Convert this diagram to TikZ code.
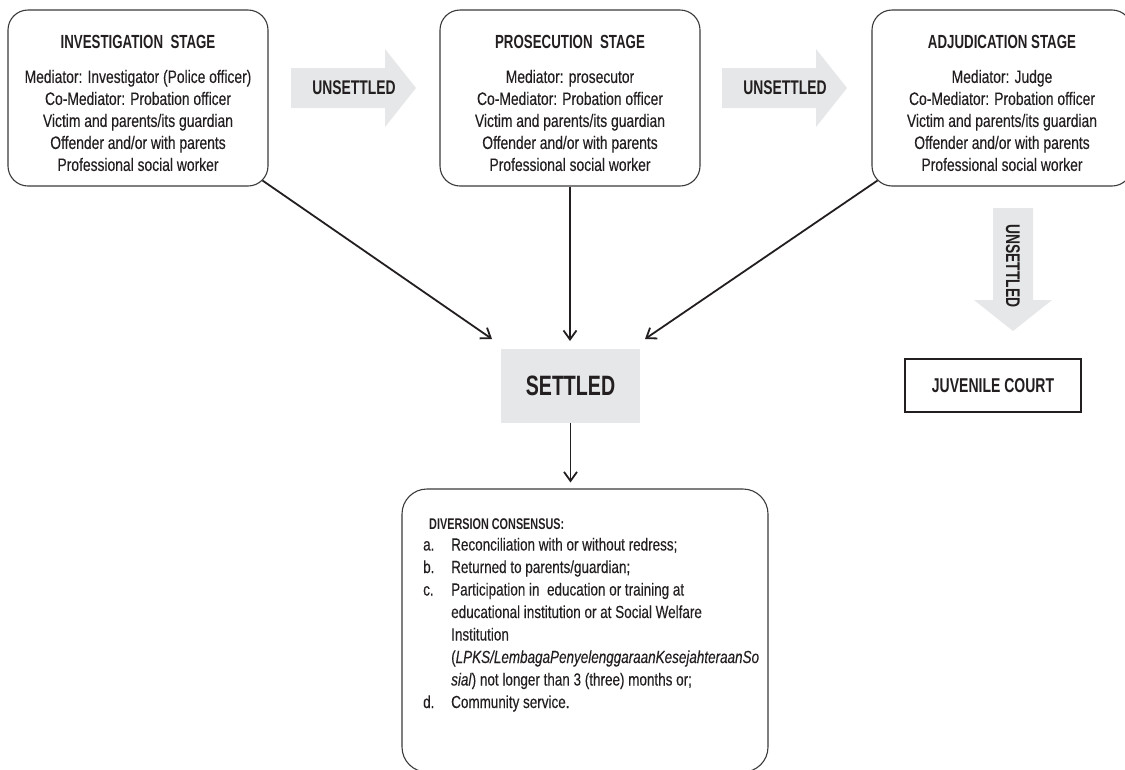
\documentclass[tikz,border=0pt]{standalone}
\usepackage{fontspec}
\setmainfont{Liberation Sans}[FakeStretch=0.77,FakeBold=0.25]
\newfontfamily\headfont{Liberation Sans}[FakeStretch=0.7]
\usetikzlibrary{arrows.meta}
\definecolor{ink}{HTML}{231F20}
\definecolor{arrowgray}{HTML}{E6E7E8}
\definecolor{boxline}{HTML}{3A3A3A}
\begin{document}
\begin{tikzpicture}[x=1pt,y=-1pt,
  stagebox/.style={draw=boxline, line width=1.1pt, rounded corners=20pt, minimum width=260pt, minimum height=176pt, inner sep=0pt},
  stagetitle/.style={text=ink, font=\headfont\bfseries\fontsize{19}{20}\selectfont, anchor=base, inner sep=0pt},
  stagebody/.style={text=ink, font=\fontsize{18}{22}\selectfont, align=center, inner sep=0pt},
  bigarrow/.style={fill=arrowgray},
  arrowlabel/.style={text=ink, font=\headfont\bfseries\fontsize{19.8}{22}\selectfont, inner sep=0pt},
  link/.style={draw=ink, line width=1.8pt, -{Straight Barb[length=9pt,width=13pt]}},
  listline/.style={text=ink, font=\fontsize{17.5}{22}\selectfont, anchor=base west, inner sep=0pt},
  listhead/.style={text=ink, font=\headfont\bfseries\fontsize{15.5}{18}\selectfont, anchor=base west, inner sep=0pt},
]
\useasboundingbox (0,0) rectangle (1125,769);

% stage boxes
\node[stagebox] (b1) at (138,98) {};
\node[stagebox] (b2) at (570,98) {};
\node[stagebox] (b3) at (1002,98) {};

\node[stagetitle] (t1) at (138,48.5) {INVESTIGATION\ \ STAGE};
\node[stagetitle] (t2) at (570,48.5) {PROSECUTION\ \ STAGE};
\node[stagetitle] (t3) at (1002,48.5) {ADJUDICATION STAGE};

\node[stagebody] (d1) at (138,120.5) {Mediator: Investigator (Police officer)\\Co-Mediator: Probation officer\\Victim and parents/its guardian\\Offender and/or with parents\\Professional social worker};
\node[stagebody] (d2) at (570,120.5) {Mediator: prosecutor\\Co-Mediator: Probation officer\\Victim and parents/its guardian\\Offender and/or with parents\\Professional social worker};
\node[stagebody] (d3) at (1002,120.5) {Mediator: Judge\\Co-Mediator: Probation officer\\Victim and parents/its guardian\\Offender and/or with parents\\Professional social worker};

% unsettled arrows
\fill[bigarrow] (291,68) -- (385,68) -- (385,49) -- (416,88) -- (385,127) -- (385,108) -- (291,108) -- cycle;
\node[arrowlabel] (u1) at (354,88) {UNSETTLED};
\fill[bigarrow] (722,68) -- (816,68) -- (816,49) -- (847,88) -- (816,127) -- (816,108) -- (722,108) -- cycle;
\node[arrowlabel] (u2) at (785,88) {UNSETTLED};
\fill[bigarrow] (993,208) -- (1033,208) -- (1033,300) -- (1052,300) -- (1013,331) -- (974,300) -- (993,300) -- cycle;
\node[arrowlabel, rotate=-90] (u3) at (1013,266) {UNSETTLED};

% settled and court
\node[fill=arrowgray, minimum width=139pt, minimum height=74pt, inner sep=0pt, text=ink, font=\headfont\bfseries\fontsize{28}{30}\selectfont] (set) at (570.5,386) {SETTLED};
\node[draw=ink, line width=2pt, minimum width=176pt, minimum height=53pt, inner sep=0pt, text=ink, font=\headfont\bfseries\fontsize{20}{22}\selectfont] (jc) at (993,385.5) {JUVENILE COURT};

% diversion box
\node[draw=boxline, line width=1.1pt, rounded corners=25pt, minimum width=366pt, minimum height=283pt, inner sep=0pt] (dv) at (585,630.5) {};

\node[listhead] (lh) at (429,529) {DIVERSION CONSENSUS:};
\node[listline] (la) at (423,550.5) {a.};
\node[listline] (lat) at (451,550.5) {Reconciliation with or without redress;};
\node[listline] (lb) at (423,573) {b.};
\node[listline] (lbt) at (451,573) {Returned to parents/guardian;};
\node[listline] (lc) at (423,595.5) {c.};
\node[listline] (lct) at (451,595.5) {Participation in\ \ education or training at};
\node[listline] (lc2) at (451,618) {educational institution or at Social Welfare};
\node[listline] (lc3) at (451,640.5) {Institution};
\node[listline] (lc4) at (451,663) {(\textit{LPKS/LembagaPenyelenggaraanKesejahteraanSo}};
\node[listline] (lc5) at (451,685.5) {\textit{sial}) not longer than 3 (three) months or;};
\node[listline] (ld) at (423,708) {d.};
\node[listline] (ldt) at (451,708) {Community service.};

% connectors
\coordinate (e1) at (492,339);
\coordinate (e2) at (570,341);
\coordinate (e3) at (645,339);
\draw[link] ([shift={(-6,-6)}]b1.south east) -- (e1);
\draw[link] (b2.south) -- (e2);
\draw[link] ([shift={(6,-6)}]b3.south west) -- (e3);
\draw[link, shorten >=6pt] (set.south) -- (set.south |- dv.north);
\end{tikzpicture}
\end{document}
